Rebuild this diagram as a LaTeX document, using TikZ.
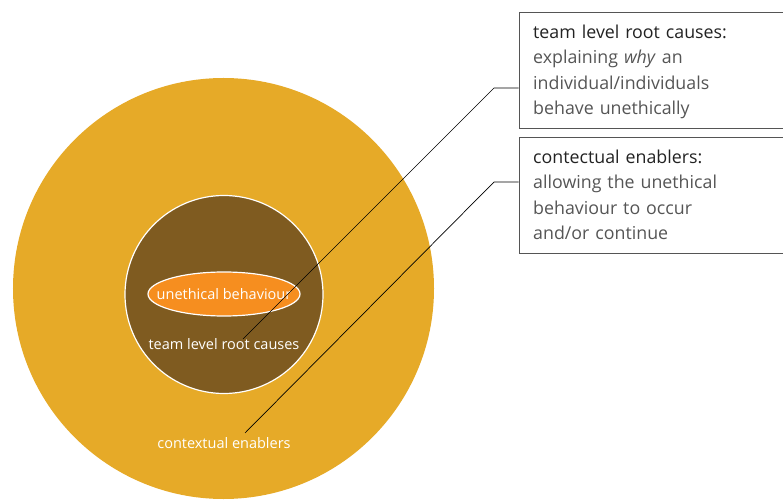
\documentclass[tikz,border=0pt]{standalone}
\usepackage{fontspec}
\setmainfont{Open Sans}
\usetikzlibrary{shapes.geometric}
\definecolor{outerc}{HTML}{E6AA28}
\definecolor{innerc}{HTML}{7F5B20}
\definecolor{ellc}{HTML}{F68E1F}
\definecolor{boxline}{HTML}{555555}
\definecolor{bodytxt}{HTML}{555555}
\definecolor{titletxt}{HTML}{222222}
\tikzset{
  infobox/.style={draw=boxline, line width=0.8bp, anchor=north west, minimum width=265bp, minimum height=116bp, inner sep=0pt},
  boxtext/.style={anchor=north west, inner sep=0pt, text width=245bp, align=left, font=\fontsize{17.8bp}{25.4bp}\selectfont, text=bodytxt},
  intext/.style={text=white, font=\fontsize{14.5bp}{16bp}\selectfont},
  leader/.style={draw=black, line width=0.7bp}
}
\begin{document}
\begin{tikzpicture}[x=1bp,y=-1bp]
\useasboundingbox (0,0) rectangle (783,502);
\fill[outerc] (223.5,288.5) circle[radius=210.5bp];
\draw[fill=innerc, draw=white, line width=1.2bp] (224,294.5) circle[radius=99bp];
\node[ellipse, fill=ellc, draw=white, line width=1.2bp, minimum width=152bp, minimum height=44bp, inner sep=0pt] (ub) at (224,294) {};
\node[intext] (ubt) at (224,294) {unethical behaviour};
\node[intext] (tl) at (224,344) {team level root causes};
\node[intext] (ce) at (224,443) {contextual enablers};
\node[infobox] (b1) at (518.5,12) {};
\node[boxtext] (b1t) at (533,24.5) {\textcolor{titletxt}{team level root causes:}\\explaining \textit{why} an\\individual/individuals\\behave unethically};
\node[infobox] (b2) at (518.5,137) {};
\node[boxtext] (b2t) at (533,149.5) {\textcolor{titletxt}{contectual enablers:}\\allowing the unethical\\behaviour to occur\\and/or continue};
\coordinate (s1) at (243,339);
\coordinate (s2) at (245,433);
\draw[leader] (s1) -- (494,88) -- (b1.west |- 0,88);
\draw[leader] (s2) -- (494,182) -- (b2.west |- 0,182);
\end{tikzpicture}
\end{document}
